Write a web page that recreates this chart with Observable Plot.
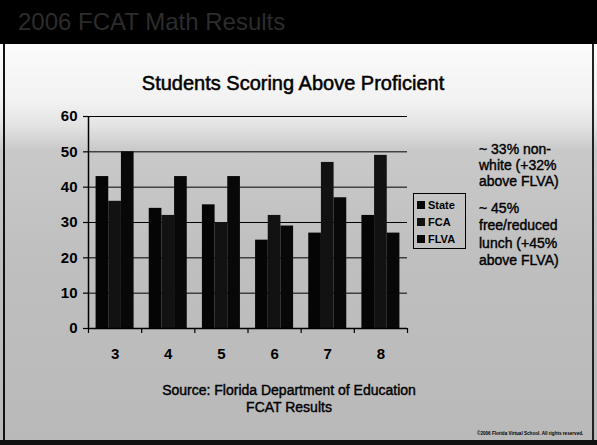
<!DOCTYPE html>
<html>
<head>
<meta charset="utf-8">
<script src="https://cdn.jsdelivr.net/npm/d3@7"></script>
<script src="https://cdn.jsdelivr.net/npm/@observablehq/plot@0.6"></script>
<style>
  html, body { margin: 0; padding: 0; }
  body { width: 597px; height: 445px; overflow: hidden; font-family: "Liberation Sans", Arial, sans-serif; }
  #slide {
    position: relative; width: 597px; height: 445px; overflow: hidden;
    background: linear-gradient(to bottom, #ffffff 0px, #fbfbfb 45px, #f2f2f2 100px, #e4e4e4 125px, #c9c9c9 150px, #bfbfbf 260px, #b9b9b9 445px);
  }
  #header {
    position: absolute; left: 0; top: 0; width: 597px; height: 44px; background: #000;
    color: #2c2c2c; font-size: 24px; line-height: 44px; padding-left: 18px; box-sizing: border-box;
  }
  #borderL { position: absolute; left: 3px; top: 44px; width: 2px; height: 401px; background: #111; }
  #borderR { position: absolute; left: 592px; top: 44px; width: 2px; height: 401px; background: #222; }
  #borderB { position: absolute; left: 0; top: 440px; width: 597px; height: 5px; background: #111; }
  #title {
    position: absolute; left: 0; width: 586px; top: 72px; text-align: center;
    font-size: 20px; color: #000; -webkit-text-stroke: 0.5px #000;
  }
  #chart { position: absolute; left: 0; top: 100px; }
  #legend {
    position: absolute; left: 413px; top: 193px; width: 53px; height: 56px;
    border: 1px solid #000; box-sizing: border-box; padding: 3px 0 0 3px;
  }
  .li { height: 17px; line-height: 17px; font-size: 11px; font-weight: bold; color: #000; white-space: nowrap; }
  .sw { display: inline-block; width: 8px; height: 8px; margin-right: 3px; }
  .note {
    position: absolute; left: 479px; font-size: 14px; color: #000; -webkit-text-stroke: 0.4px #000;
  }
  #source {
    position: absolute; left: 0; width: 578px; top: 382px; text-align: center;
    font-size: 14px; line-height: 17px; color: #000; -webkit-text-stroke: 0.4px #000;
  }
  #copy { position: absolute; left: 477px; top: 431px; font-size: 4.6px; font-weight: bold; color: #000; white-space: nowrap; }
</style>
</head>
<body>
<div id="slide">
  <div id="header">2006 FCAT Math Results</div>
  <div id="borderL"></div>
  <div id="borderR"></div>
  <div id="borderB"></div>
  <div id="title"></div>
  <div id="chart"></div>
  <div id="legend"></div>
  <div class="note" id="note1" style="top:141px; line-height:16px;"></div>
  <div class="note" id="note2" style="top:200px; line-height:17.3px;"></div>
  <div id="source"></div>
  <div id="copy">©2006 Florida Virtual School. All rights reserved.</div>
</div>
<script>
const chartTitle = "Students Scoring Above Proficient";
const grades = [3, 4, 5, 6, 7, 8];
const seriesNames = ["State", "FCA", "FLVA"];
const seriesColors = ["#050505", "#121212", "#080808"];
const stateValues = [43, 34, 35, 25, 27, 32];
const fcaValues = [36, 32, 30, 32, 47, 49];
const flvaValues = [50, 43, 43, 29, 37, 27];
const yTicks = [0, 10, 20, 30, 40, 50, 60];
const note1Lines = ["~ 33% non-", "white (+32%", "above FLVA)"];
const note2Lines = ["~ 45%", "free/reduced", "lunch (+45%", "above FLVA)"];
const sourceLines = ["Source: Florida Department of Education", "FCAT Results"];

document.getElementById("title").textContent = chartTitle;
document.getElementById("note1").innerHTML = note1Lines.join("<br>");
document.getElementById("note2").innerHTML = note2Lines.join("<br>");
document.getElementById("source").innerHTML = sourceLines.join("<br>");

const seriesValues = [stateValues, fcaValues, flvaValues];
const data = [];
seriesNames.forEach((s, k) => grades.forEach((g, i) => data.push({grade: g, series: s, k, value: seriesValues[k][i]})));

// legend
const legend = document.getElementById("legend");
seriesNames.forEach((s, k) => {
  const row = document.createElement("div");
  row.className = "li";
  row.innerHTML = `<span class="sw" style="background:${seriesColors[k]}"></span>${s}`;
  legend.appendChild(row);
});

// layout of bars within each grade band (in grade units)
const groupWidth = 0.715;
const barWidth = groupWidth / seriesNames.length;
const boundaries = grades.map(g => g - 0.5).concat([grades[grades.length - 1] + 0.5]);
const xDomain = [boundaries[0], boundaries[boundaries.length - 1]];

const chart = Plot.plot({
  width: 420,
  height: 280,
  marginLeft: 88,
  marginRight: 13,
  marginTop: 16,
  marginBottom: 52,
  style: {background: "transparent", fontFamily: "Liberation Sans, Arial, sans-serif", color: "#000", overflow: "visible"},
  x: {type: "linear", domain: xDomain},
  y: {domain: [0, 60]},
  color: {domain: seriesNames, range: seriesColors},
  marks: [
    Plot.ruleY(yTicks.filter(v => v > 0), {stroke: "#000", strokeWidth: 1, strokeOpacity: 1}),
    Plot.rectY(data, {
      x1: d => d.grade - groupWidth / 2 + d.k * barWidth,
      x2: d => d.grade - groupWidth / 2 + (d.k + 1) * barWidth,
      y1: 0,
      y2: "value",
      fill: "series"
    }),
    Plot.ruleY([0], {stroke: "#000", strokeWidth: 1.5}),
    Plot.ruleX([xDomain[0]], {y1: 0, y2: 60, stroke: "#000", strokeWidth: 1.5}),
    Plot.axisY({ticks: yTicks, tickSize: 5, tickPadding: 6, fontSize: 15, fontWeight: "bold", label: null, strokeWidth: 1.2}),
    Plot.axisX({ticks: boundaries, tickSize: 5, tickFormat: () => "", label: null, strokeWidth: 1.2}),
    Plot.axisX({ticks: grades, tickSize: 0, tickPadding: 20, fontSize: 15, fontWeight: "bold", label: null, tickFormat: d => String(d)})
  ]
});
document.getElementById("chart").appendChild(chart);
</script>
</body>
</html>
